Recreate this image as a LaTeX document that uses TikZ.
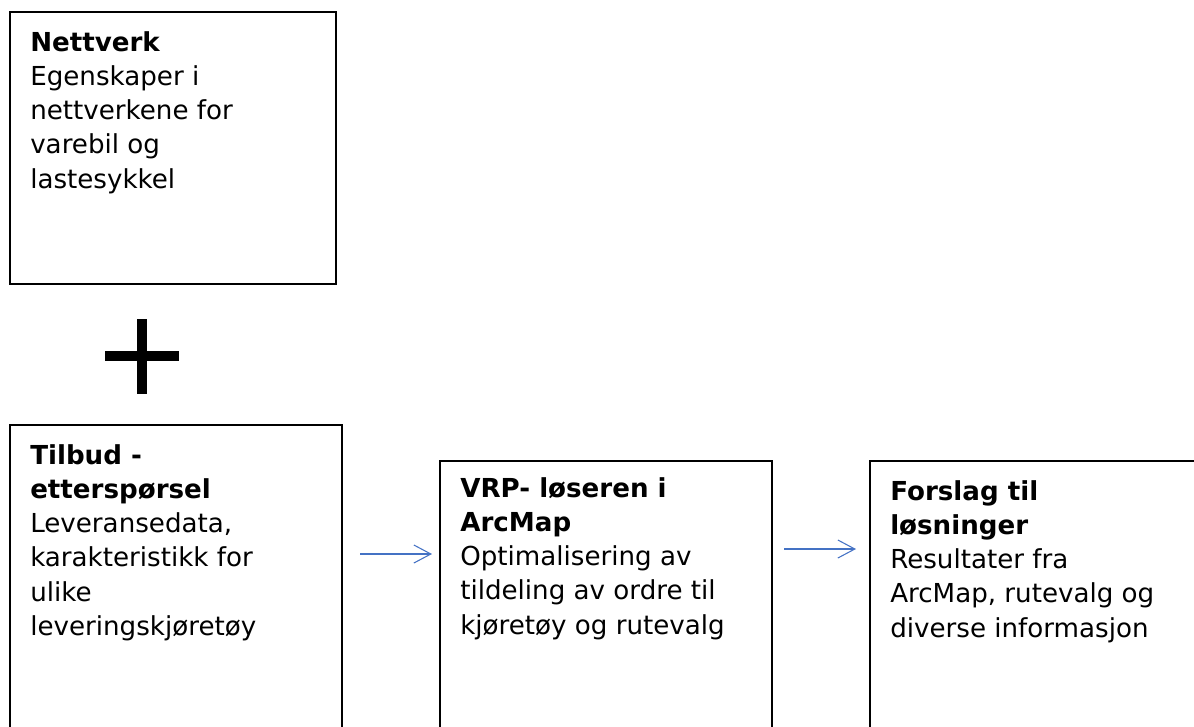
\documentclass[tikz,border=0pt]{standalone}
\usepackage{fontspec}
\setmainfont{DejaVu Sans}
\usetikzlibrary{arrows.meta,calc}
\definecolor{arrblue}{HTML}{4472C4}
\tikzset{
  box/.style={draw=black, line width=1.5pt, fill=none, rectangle, inner sep=0pt, anchor=north west},
  txt/.style={anchor=north west, inner sep=0pt, align=left, text=black,
    font=\fontsize{19.6pt}{25.7pt}\selectfont},
  arr/.style={draw=arrblue, line width=0.8pt, -{Straight Barb[length=12.75pt,width=13.5pt,line width=0.8pt]}},
  plusbar/.style={line width=7.9pt, draw=black}
}
\begin{document}
\begin{tikzpicture}[x=0.75pt,y=-0.75pt]
\useasboundingbox (0,0) rectangle (1194,726);
\clip (0,0) rectangle (1194,726);
% boxes
\node[box, minimum width=244.5pt, minimum height=204pt] (b1) at (9,11) {};
\node[box, minimum width=249pt, minimum height=300pt] (b2) at (9,424) {};
\node[box, minimum width=249pt, minimum height=300pt] (b3) at (439,460) {};
\node[box, minimum width=249pt, minimum height=300pt] (b4) at (869,460) {};
% texts
\node[txt] (t1) at ($(b1.north west)+(21,20)$) {\textbf{Nettverk}\\Egenskaper i\\nettverkene for\\varebil og\\lastesykkel};
\node[txt] (t2) at ($(b2.north west)+(21,20)$) {\textbf{Tilbud -}\\\textbf{etterspørsel}\\Leveransedata,\\karakteristikk for\\ulike\\leveringskjøretøy};
\node[txt] (t3) at ($(b3.north west)+(21,17)$) {\textbf{VRP- løseren i}\\\textbf{ArcMap}\\Optimalisering av\\tildeling av ordre til\\kjøretøy og rutevalg};
\node[txt] (t4) at ($(b4.north west)+(21,20)$) {\textbf{Forslag til}\\\textbf{løsninger}\\Resultater fra\\ArcMap, rutevalg og\\diverse informasjon};
% plus sign
\draw[plusbar] (142,319) -- (142,394);
\draw[plusbar] (105,356) -- (179,356);
% arrows
\coordinate (a1s) at ($(b2.north east)+(17,130)$);
\coordinate (a1e) at ($(b3.north west)+(-7,94)$);
\coordinate (a2s) at ($(b3.north east)+(11,89)$);
\coordinate (a2e) at ($(b4.north west)+(-13,89)$);
\draw[arr] (a1s) -- (a1e);
\draw[arr] (a2s) -- (a2e);
\end{tikzpicture}
\end{document}
